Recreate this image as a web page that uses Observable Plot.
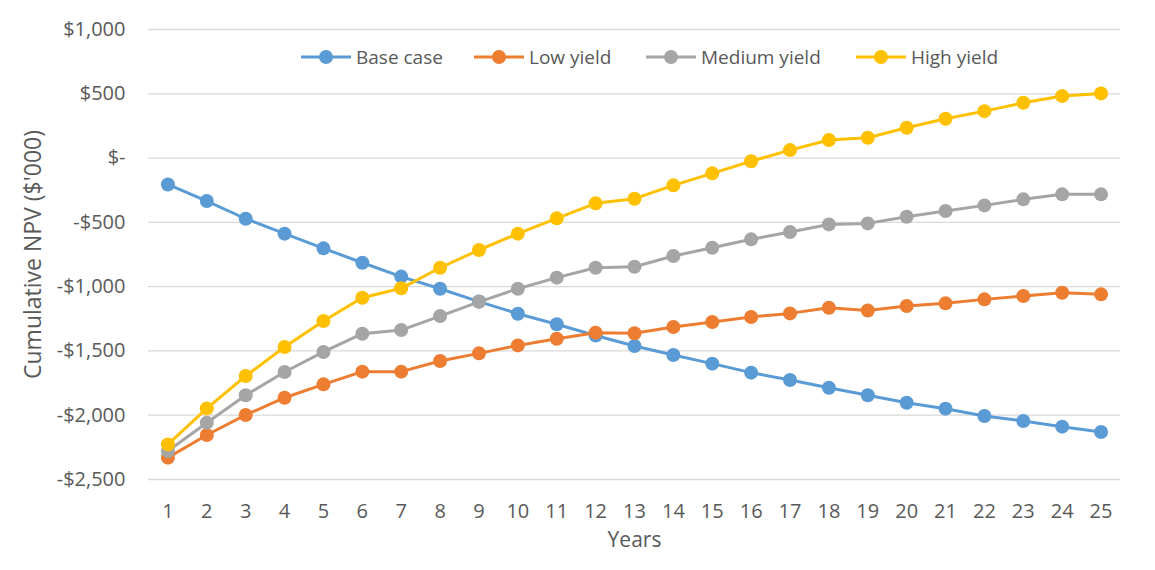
<!DOCTYPE html>
<html>
<head>
<meta charset="utf-8">
<script src="https://cdn.jsdelivr.net/npm/d3@7"></script>
<script src="https://cdn.jsdelivr.net/npm/@observablehq/plot@0.6"></script>
<style>
  html, body { margin: 0; padding: 0; background: #fff; }
  #wrap { position: relative; width: 1155px; height: 570px; font-family: "Open Sans", sans-serif; }
  .item { position: absolute; top: 46px; display: flex; align-items: center; font-size: 19px; color: #595959; white-space: nowrap; line-height: 22px; }
  .item svg { margin-right: 4px; }
</style>
</head>
<body>
<div id="wrap"></div>
<script>
const years = d3.range(1, 26);
const seriesNames = ["Base case", "Low yield", "Medium yield", "High yield"];
const seriesColors = ["#5B9BD5", "#ED7D31", "#A5A5A5", "#FFC000"];
const yTicks = [-2500, -2000, -1500, -1000, -500, 0, 500, 1000];

const baseCase = [-205, -334, -472, -588, -702, -814, -922, -1016, -1116, -1211, -1293, -1380, -1462, -1532, -1599, -1669, -1726, -1786, -1845, -1903, -1949, -2006, -2045, -2089, -2131];
const lowYield = [-2330, -2154, -1998, -1864, -1760, -1661, -1661, -1578, -1519, -1457, -1405, -1358, -1363, -1314, -1275, -1236, -1208, -1164, -1185, -1151, -1130, -1099, -1073, -1047, -1060];
const mediumYield = [-2278, -2058, -1845, -1664, -1508, -1366, -1338, -1229, -1118, -1016, -930, -853, -845, -762, -697, -632, -575, -516, -508, -456, -412, -368, -321, -282, -282];
const highYield = [-2227, -1947, -1695, -1470, -1267, -1086, -1013, -853, -715, -588, -469, -352, -316, -212, -119, -25, 62, 140, 158, 236, 306, 365, 430, 482, 503];

const valuesBySeries = [baseCase, lowYield, mediumYield, highYield];
const data = [];
seriesNames.forEach((s, i) => {
  years.forEach((yr, j) => data.push({series: s, year: yr, value: valuesBySeries[i][j]}));
});

const fmt = d => d === 0 ? "$-" : (d < 0 ? "-" : "") + "$" + d3.format(",")(Math.abs(d));

const chart = Plot.plot({
  width: 1155,
  height: 570,
  marginLeft: 148,
  marginRight: 35,
  marginTop: 29,
  marginBottom: 91,
  style: {fontFamily: "Open Sans, sans-serif", fontSize: "19px", color: "#595959", background: "#fff"},
  x: {type: "point", domain: years, padding: 0.5, round: false},
  y: {domain: [-2500, 1000]},
  color: {domain: seriesNames, range: seriesColors},
  marks: [
    Plot.gridY(yTicks, {stroke: "#d9d9d9", strokeOpacity: 1, strokeWidth: 1.3}),
    Plot.axisY(yTicks, {tickSize: 0, tickPadding: 23, tickFormat: fmt, fontSize: 20, label: null, fill: "#595959"}),
    Plot.axisY({tickSize: 0, ticks: [], label: "Cumulative NPV ($'000)", labelAnchor: "center", labelArrow: "none", labelOffset: 124, dy: -7, fontSize: 23, fill: "#595959"}),
    Plot.axisX(years, {tickSize: 0, tickPadding: 24, fontSize: 20, label: null, fill: "#595959"}),
    Plot.axisX({tickSize: 0, ticks: [], label: "Years", labelAnchor: "center", labelArrow: "none", labelOffset: 67, dx: -9, fontSize: 21, fill: "#595959"}),
    Plot.line(data, {x: "year", y: "value", z: "series", stroke: "series", strokeWidth: 3}),
    Plot.dot(data, {x: "year", y: "value", fill: "series", r: 7, stroke: "none"})
  ]
});

const wrap = document.getElementById("wrap");
wrap.appendChild(chart);

const legendLeft = [300, 473, 645, 855];
seriesNames.forEach((s, i) => {
  const item = document.createElement("div");
  item.className = "item";
  item.style.left = legendLeft[i] + "px";
  item.innerHTML = `<svg width="52" height="16"><line x1="1" y1="8" x2="51" y2="8" stroke="${seriesColors[i]}" stroke-width="3"/><circle cx="26" cy="8" r="7" fill="${seriesColors[i]}"/></svg><span>${s}</span>`;
  wrap.appendChild(item);
});
</script>
</body>
</html>
